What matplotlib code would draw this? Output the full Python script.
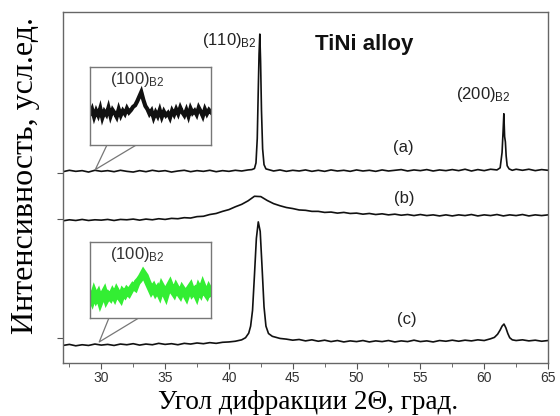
import numpy as np
import matplotlib.pyplot as plt

plt.rcParams['font.family'] = ['Liberation Sans', 'DejaVu Sans']
plt.rcParams['mathtext.default'] = 'regular'

# --- scan (a): 2theta, intensity (arb. units, offset stacked)
two_theta_a = [27.0, 27.5, 28.0, 28.5, 29.0, 29.5, 30.0, 30.5, 31.0, 31.5,
               32.0, 32.5, 33.0, 33.5, 34.0, 34.5, 35.0, 35.5, 36.0, 36.5,
               37.0, 37.5, 38.0, 38.5, 39.0, 39.5, 40.0, 40.5, 41.0, 41.5,
               41.8, 42.0, 42.12, 42.22, 42.3, 42.36, 42.42, 42.48, 42.55, 42.64,
               42.75, 42.9, 43.2, 43.5, 44.0, 44.5, 45.0, 45.5, 46.0, 46.5,
               47.0, 47.5, 48.0, 48.5, 49.0, 49.5, 50.0, 50.5, 51.0, 51.5,
               52.0, 52.5, 53.0, 53.5, 54.0, 54.5, 55.0, 55.5, 56.0, 56.5,
               57.0, 57.5, 58.0, 58.5, 59.0, 59.5, 60.0, 60.5, 61.0, 61.25,
               61.4, 61.48, 61.54, 61.6, 61.66, 61.72, 61.8, 61.95, 62.2, 62.5,
               63.0, 63.5, 64.0, 64.5, 65.0]
intensity_a = [54.5, 54.9, 54.6, 54.8, 54.4, 54.9, 54.6, 54.8, 54.5, 54.9,
               54.6, 54.4, 54.8, 54.5, 54.9, 54.6, 54.8, 54.4, 54.7, 54.9,
               54.5, 54.8, 54.6, 54.9, 54.5, 54.8, 54.6, 54.9, 54.7, 55.0,
               55.1, 55.4, 57.0, 64.0, 78.0, 88.0, 93.7, 86.0, 72.0, 61.0,
               56.5, 55.3, 55.0, 54.7, 55.0, 54.6, 54.9, 54.7, 55.0, 54.6,
               54.9, 54.6, 55.0, 54.7, 54.9, 54.6, 55.0, 54.7, 54.9, 54.6,
               55.0, 54.7, 54.9, 55.1, 54.7, 55.0, 54.8, 55.1, 54.7, 55.0,
               54.8, 55.1, 54.8, 55.2, 54.7, 55.1, 54.8, 55.2, 55.0, 55.6,
               60.0, 66.0, 71.0, 64.5, 63.0, 59.0, 56.2, 55.3, 54.9, 55.2,
               54.9, 55.2, 54.8, 55.1, 54.9]

# --- scan (b)
two_theta_b = [27.0, 27.5, 28.0, 28.5, 29.0, 29.5, 30.0, 30.5, 31.0, 31.5,
               32.0, 32.5, 33.0, 33.5, 34.0, 34.5, 35.0, 35.5, 36.0, 36.5,
               37.0, 37.5, 38.0, 38.5, 39.0, 39.5, 40.0, 40.5, 41.0, 41.5,
               42.0, 42.5, 43.0, 43.5, 44.0, 44.5, 45.0, 45.5, 46.0, 46.5,
               47.0, 47.5, 48.0, 48.5, 49.0, 49.5, 50.0, 50.5, 51.0, 51.5,
               52.0, 52.5, 53.0, 53.5, 54.0, 54.5, 55.0, 55.5, 56.0, 56.5,
               57.0, 57.5, 58.0, 58.5, 59.0, 59.5, 60.0, 60.5, 61.0, 61.5,
               62.0, 62.5, 63.0, 63.5, 64.0, 64.5, 65.0]
intensity_b = [40.5, 40.8, 40.6, 40.9, 40.6, 40.8, 40.7, 40.9, 40.6, 40.9,
               40.8, 41.0, 40.7, 41.0, 40.8, 41.1, 40.9, 41.2, 41.1, 41.4,
               41.3, 41.7, 41.8, 42.3, 42.6, 43.2, 43.7, 44.5, 45.2, 46.2,
               47.5, 47.4, 46.3, 45.4, 44.8, 44.3, 44.0, 43.6, 43.5, 43.2,
               43.2, 42.9, 43.0, 42.7, 42.9, 42.6, 42.7, 42.4, 42.6, 42.3,
               42.5, 42.2, 42.4, 42.1, 42.3, 42.0, 42.3, 42.0, 42.2, 41.9,
               42.2, 41.9, 42.2, 42.0, 42.3, 41.9, 42.2, 42.0, 42.3, 41.9,
               42.2, 42.0, 42.3, 41.9, 42.2, 42.0, 42.2]

# --- scan (c)
two_theta_c = [27.0, 27.5, 28.0, 28.5, 29.0, 29.5, 30.0, 30.5, 31.0, 31.5,
               32.0, 32.5, 33.0, 33.5, 34.0, 34.5, 35.0, 35.5, 36.0, 36.5,
               37.0, 37.5, 38.0, 38.5, 39.0, 39.5, 40.0, 40.5, 41.0, 41.3,
               41.55, 41.7, 41.85, 42.0, 42.15, 42.3, 42.45, 42.6, 42.75, 42.9,
               43.1, 43.4, 43.7, 44.0, 44.5, 45.0, 45.5, 46.0, 46.5, 47.0,
               47.5, 48.0, 48.5, 49.0, 49.5, 50.0, 50.5, 51.0, 51.5, 52.0,
               52.5, 53.0, 53.5, 54.0, 54.5, 55.0, 55.5, 56.0, 56.5, 57.0,
               57.5, 58.0, 58.5, 59.0, 59.5, 60.0, 60.5, 60.8, 61.05, 61.25,
               61.4, 61.55, 61.7, 61.85, 62.0, 62.2, 62.5, 63.0, 63.5, 64.0,
               64.5, 65.0]
intensity_c = [5.0, 5.3, 4.9, 5.2, 5.0, 5.4, 5.1, 5.3, 5.0, 5.4,
               5.2, 5.5, 5.1, 5.4, 5.2, 5.6, 5.3, 5.5, 5.2, 5.6,
               5.4, 5.7, 5.5, 5.8, 5.6, 5.9, 6.0, 6.2, 6.6, 7.2,
               8.5, 10.5, 15.0, 25.0, 35.5, 40.2, 37.5, 27.0, 16.0, 10.5,
               8.4, 7.6, 7.3, 7.0, 6.8, 6.5, 6.7, 6.3, 6.6, 6.2,
               6.5, 6.1, 6.4, 6.0, 6.3, 6.1, 6.4, 6.0, 6.3, 6.1,
               6.4, 6.0, 6.3, 6.1, 6.5, 6.1, 6.3, 6.0, 6.4, 6.2,
               6.5, 6.2, 6.5, 6.3, 6.6, 6.4, 6.9, 7.3, 8.2, 9.4,
               10.5, 11.1, 10.0, 8.4, 7.2, 6.6, 6.4, 6.6, 6.3, 6.5,
               6.2, 6.4]

# --- zoomed (100)B2 region, insets
inset_a = [40, 46, 36, 44, 38, 47, 35, 43, 39, 48, 37, 45, 41, 36, 46, 38, 44, 40, 47, 42,
           45, 49, 51, 56, 62, 68, 58, 50, 46, 40, 44, 35, 42, 37, 45, 36, 43, 38, 41, 35,
           44, 39, 46, 40, 48, 42, 38, 45, 37, 47, 41, 44, 39, 48, 43, 37, 46, 40, 45, 42]
inset_c = [30, 24, 33, 26, 31, 22, 29, 34, 25, 30, 27, 33, 28, 35, 30, 26, 34, 31, 36, 33,
           38, 42, 40, 47, 50, 54, 59, 55, 48, 42, 36, 40, 34, 38, 32, 41, 36, 30, 39, 44,
           37, 33, 40, 35, 31, 38, 34, 29, 37, 41, 33, 36, 30, 39, 34, 42, 35, 31, 38, 33]

x_ticks = [30, 35, 40, 45, 50, 55, 60, 65]
baseline_ticks = [54.1, 41.0, 7.1]

fig = plt.figure(figsize=(5.6, 4.16), dpi=100)
ax = fig.add_axes([0.1125, 0.1274, 0.8661, 0.8438])

for tt, ii in [(two_theta_a, intensity_a), (two_theta_b, intensity_b), (two_theta_c, intensity_c)]:
    ax.plot(tt, ii, color='#111111', lw=1.2)

ax.set_xlim(27.0, 65.0)
ax.set_ylim(0, 100)
ax.set_xticks(x_ticks)
ax.set_xticks([t - 2.5 for t in x_ticks], minor=True)
ax.set_yticks(baseline_ticks)
ax.set_yticklabels([])
ax.tick_params(axis='both', which='both', direction='out', color='#555555',
               labelcolor='#333333', labelsize=10, pad=2)
ax.tick_params(which='major', length=4)
ax.tick_params(which='minor', length=3)
for s in ax.spines.values():
    s.set_color('#666666')
    s.set_linewidth(1.0)

ax.text(42.15, 92.0, r'(110)$_{B2}$', ha='right', va='center', fontsize=12, color='#222222')
ax.text(59.9, 76.5, r'(200)$_{B2}$', ha='center', va='center', fontsize=12, color='#222222')
ax.text(50.6, 90.6, 'TiNi alloy', ha='center', va='center', fontsize=16,
        fontweight='bold', color='#111111')
ax.text(53.7, 61.4, '(a)', ha='center', va='center', fontsize=12, color='#222222')
ax.text(53.7, 46.8, '(b)', ha='center', va='center', fontsize=12, color='#222222')
ax.text(53.9, 12.5, '(c)', ha='center', va='center', fontsize=12, color='#222222')

# callout boxes
insets = [(inset_a, '#111111', 3.0, [0.0557, 0.621, 0.2495, 0.222]),
          (inset_c, '#33ee33', 5.0, [0.0557, 0.128, 0.2495, 0.2165])]
for vals, col, lw, pos in insets:
    ins = ax.inset_axes(pos)
    ins.plot(np.arange(len(vals)), vals, color=col, lw=lw, solid_joinstyle='miter')
    ins.set_xlim(0, len(vals) - 1)
    ins.set_ylim(0, 100)
    ins.set_xticks([])
    ins.set_yticks([])
    for s in ins.spines.values():
        s.set_color('#777777')
        s.set_linewidth(1.0)
    ins.text(0.39, 0.84, r'(100)$_{B2}$', transform=ins.transAxes, ha='center',
             va='center', fontsize=12, color='#333333')

ax.plot([30.47, 29.53, 32.83], [62.3, 55.1, 62.3], color='#777777', lw=0.9)
ax.plot([30.63, 29.84, 33.06], [13.1, 6.0, 13.1], color='#777777', lw=0.9)

fig.text(0.55, 0.002, 'Угол дифракции 2Θ, град.', family='Liberation Serif',
         fontsize=19.5, ha='center', va='bottom')
fig.text(0.046, 0.577, 'Интенсивность, усл.ед.', family='Liberation Serif',
         fontsize=23, ha='center', va='center', rotation=90)

fig.savefig('out.png', dpi=100)
